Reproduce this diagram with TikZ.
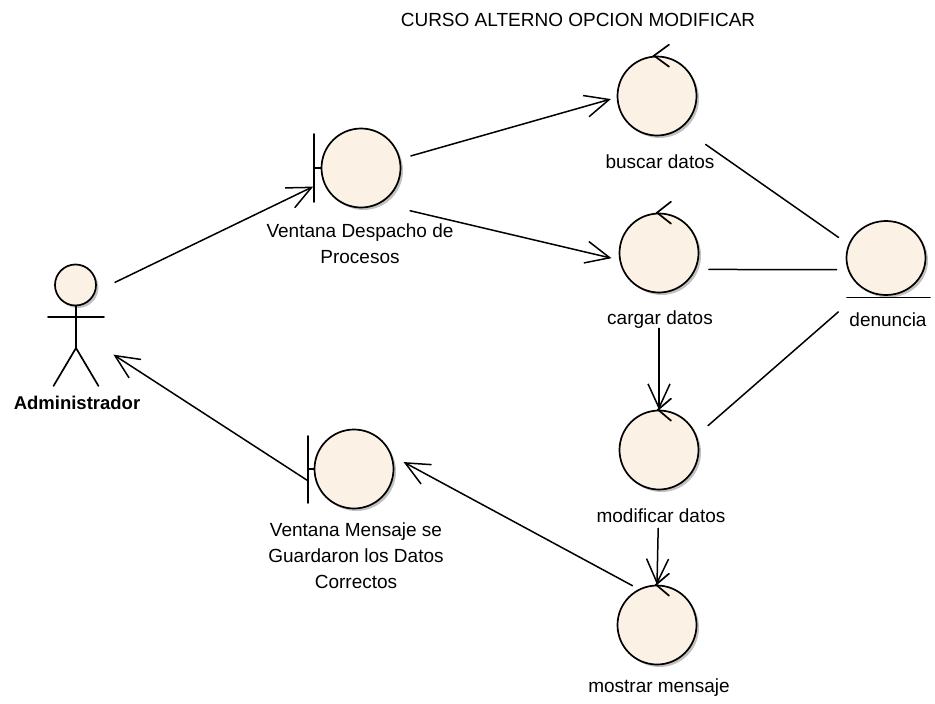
\documentclass[tikz,border=0pt]{standalone}
\usepackage{fontspec}
\setmainfont{Liberation Sans}
\usetikzlibrary{arrows.meta,shapes.geometric,shadows}
\definecolor{elemfill}{RGB}{251,241,228}

\begin{document}
\begin{tikzpicture}[x=1pt,y=-1pt,>={Straight Barb[length=24pt,width=22pt]},line cap=round,
  font=\fontsize{19}{26}\selectfont,
  shade/.style={drop shadow={shadow xshift=2.5pt,shadow yshift=-2.5pt,fill=black!30,opacity=0.8}},
  elem/.style={circle,draw,line width=1.7pt,fill=elemfill,minimum size=79pt,inner sep=0pt,shade},
  ent/.style={elem,ellipse,minimum width=79pt,minimum height=74pt},
  outline/.style={line width=1.7pt},
  link/.style={line width=1.5pt},
  lbl/.style={anchor=base,inner sep=0pt},
  lbls/.style={anchor=north,align=center,inner sep=0pt}]
\useasboundingbox (0,0) rectangle (935,704);

\node[lbl] (title) at (578,27) {CURSO ALTERNO OPCION MODIFICAR};

% actor
\node[minimum width=56pt,minimum height=122pt,inner sep=0pt] (admin) at (76,325) {};
\begin{scope}[shift={(76,325)}]
\filldraw[outline,fill=elemfill,shade] (-0.5,-40) circle[radius=20.5pt];
\draw[outline] (0,-19.5) -- (0,23);
\draw[outline] (-28,-8) -- (28,-8);
\draw[outline] (-22.5,61) -- (0,23) -- (22.5,61);
\end{scope}
\node[lbl,font=\fontsize{18.5}{26}\selectfont\bfseries] (adminlbl) at (77,409) {Administrador};

% boundaries
\node[elem] (despacho) at (361,168) {};
\draw[outline] ([shift={(-47,-34)}]despacho.center) -- ([shift={(-47,34)}]despacho.center);
\draw[outline] ([xshift=-47pt]despacho.center) -- (despacho.west);
\node[lbls] (despacholbl) at (360,224) {Ventana Despacho de\\Procesos};

\node[elem] (mensaje) at (354,469) {};
\draw[outline] ([shift={(-46,-33)}]mensaje.center) -- ([shift={(-46,34)}]mensaje.center);
\draw[outline] ([xshift=-46pt]mensaje.center) -- (mensaje.west);
\node[lbls] (mensajelbl) at (356,523) {Ventana Mensaje se\\Guardaron los Datos\\Correctos};

% controls
\node[elem] (buscar) at (657,96) {};
\node[elem] (cargar) at (659,253) {};
\node[elem] (modificar) at (659,450) {};
\node[elem] (mostrar) at (657,625) {};
\draw[outline] ([shift={(12,-11)}]buscar.north) -- ([xshift=-3pt]buscar.north) -- ([shift={(12,11)}]buscar.north);
\draw[outline] ([shift={(12,-11)}]cargar.north) -- ([xshift=-2pt]cargar.north) -- ([shift={(12,11)}]cargar.north);
\draw[outline] ([shift={(12,-11)}]modificar.north) -- ([xshift=-1pt]modificar.north) -- ([shift={(12,11)}]modificar.north);
\draw[outline] ([shift={(12,-11)}]mostrar.north) -- ([xshift=-1pt]mostrar.north) -- ([shift={(12,11)}]mostrar.north);
\node[lbl] (buscarlbl) at (660,168) {buscar datos};
\node[lbl] (cargarlbl) at (660,324) {cargar datos};
\node[lbl] (modificarlbl) at (661,522) {modificar datos};
\node[lbl] (mostrarlbl) at (659,692) {mostrar mensaje};

% entity
\node[ent] (denuncia) at (886,258) {};
\draw[outline] ([shift={(-39,1.5)}]denuncia.south) -- ([shift={(44,1.5)}]denuncia.south);
\node[lbl] (denuncialbl) at (888,326) {denuncia};

% links
\draw[link,->,shorten <=12pt,shorten >=11pt] (admin.53) -- (despacho.200);
\draw[link,->,shorten <=11pt,shorten >=6pt] (despacho.13) -- (buscar.182);
\draw[link,->,shorten <=31pt,shorten >=8pt] (despacho.-62) -- (cargar.190);
\draw[link,shorten <=29pt,shorten >=12pt] (buscar.-52) -- (denuncia.160);
\draw[link,shorten <=13pt,shorten >=11pt] (cargar.-24) -- (denuncia.197);
\draw[link,shorten <=15pt,shorten >=34pt] (modificar.21) -- (denuncia.235);
\draw[link,->,shorten <=35pt] (cargar.south) -- (modificar.north);
\draw[link,->,shorten <=38pt] (modificar.south) -- (mostrar.north);
\draw[link,->,shorten <=7pt,shorten >=13pt] (mostrar.117) -- (mensaje.19);
\draw[link,->,shorten <=13pt,shorten >=11pt] (mensaje.207) -- (admin.-40);
\end{tikzpicture}
\end{document}
